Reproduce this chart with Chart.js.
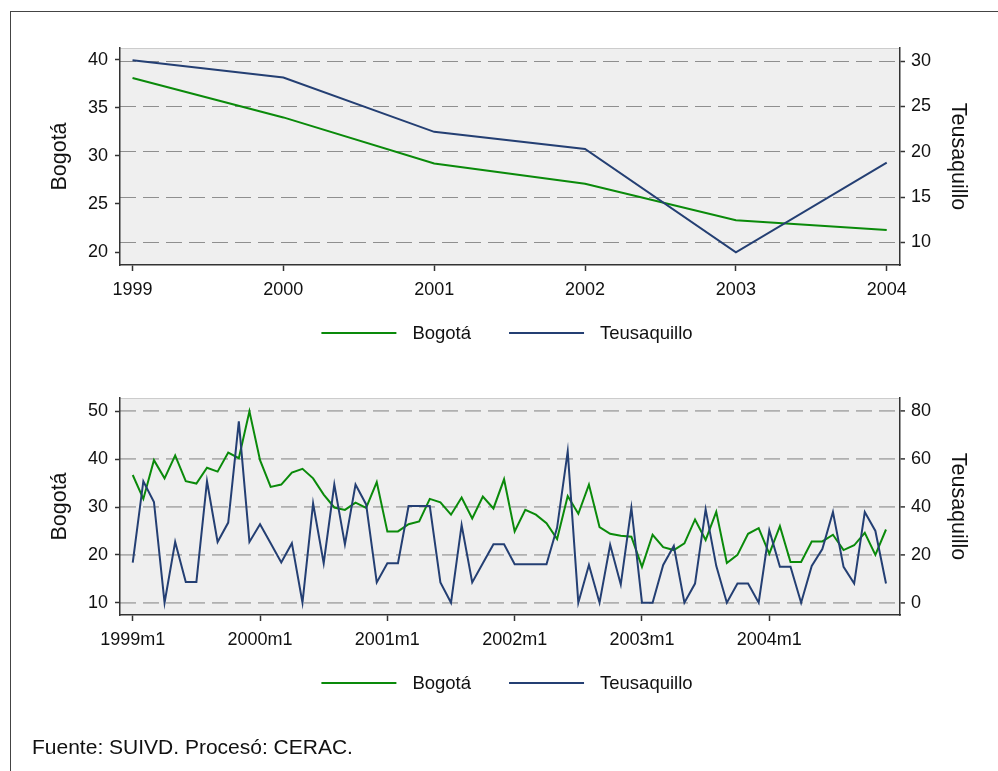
<!DOCTYPE html>
<html>
<head>
<meta charset="utf-8">
<script src="https://cdn.jsdelivr.net/npm/chart.js@4"></script>
<style>
  body { margin: 0; background: #fff; width: 998px; height: 771px; overflow: hidden; position: relative; font-family: 'Liberation Sans', Arial, sans-serif; }
  .marco { position: absolute; left: 10px; top: 11px; width: 1000px; height: 800px; border-left: 1px solid #444; border-top: 1px solid #444; }
  #anual { position: absolute; left: 10px; top: 11px; }
  #mensual { position: absolute; left: 10px; top: 360px; }
  .nota { position: absolute; left: 32px; top: 735px; font-size: 21px; color: #111; line-height: 24px; }
</style>
</head>
<body>
<div class="marco"></div>
<canvas id="anual" width="988" height="340"></canvas>
<canvas id="mensual" width="988" height="411"></canvas>
<div class="nota">Fuente: SUIVD. Procesó: CERAC.</div>
<script>
// tasas anuales
const years = [1999, 2000, 2001, 2002, 2003, 2004];
const bogotaAnual = [38.1, 34.0, 29.2, 27.1, 23.3, 22.3];
const teusaquilloAnual = [30.1, 28.2, 22.2, 20.3, 8.9, 18.8];

// tasas mensuales, 1999m1 .. 2004m12
const bogotaMensual = [
  36.7, 31.7, 39.8, 36.0, 40.8, 35.4, 34.9, 38.2, 37.4, 41.4, 40.2, 50.0,
  39.8, 34.2, 34.7, 37.2, 38.0, 36.0, 32.6, 29.9, 29.4, 30.9, 29.8, 35.2,
  24.9, 24.9, 26.4, 27.0, 31.7, 31.0, 28.4, 32.0, 27.6, 32.2, 29.7, 35.8,
  24.9, 29.4, 28.4, 26.6, 23.3, 32.3, 28.6, 34.7, 25.8, 24.4, 24.0, 23.8,
  17.5, 24.2, 21.6, 21.0, 22.4, 27.4, 23.1, 29.0, 18.3, 20.0, 24.4, 25.6,
  20.2, 26.0, 18.5, 18.5, 22.8, 22.8, 24.2, 21.0, 22.0, 24.6, 20.0, 25.3
];
const teusaquilloMensual = [
  16.8, 50.8, 42.1, 0, 25.4, 8.7, 8.7, 50.8, 25.4, 33.5, 75.8, 25.4,
  32.8, 24.9, 16.8, 24.9, 0, 41.5, 16.5, 49.4, 24.4, 49.4, 41.1, 8.5,
  16.5, 16.5, 40.4, 40.4, 40.4, 8.5, 0, 32.5, 8.5, 16.5, 24.4, 24.4,
  16.1, 16.1, 16.1, 16.1, 31.4, 63.3, 0, 15.8, 0, 24.2, 7.6, 39.7,
  0, 0, 15.8, 23.7, 0, 8.0, 39.0, 15.4, 0, 8.0, 8.0, 0,
  30.3, 15.0, 15.0, 0, 15.4, 22.4, 37.9, 15.0, 8.0, 37.9, 30.0, 8.0
];
const monthTicks = [0, 12, 24, 36, 48, 60];
const monthTickLabels = ['1999m1', '2000m1', '2001m1', '2002m1', '2003m1', '2004m1'];

const verde = '#0a8a0a';
const azul = '#243f73';
const eje = '#333';

Chart.defaults.font.family = "'Liberation Sans', Arial, sans-serif";
Chart.defaults.font.size = 18;
Chart.defaults.color = '#111';

// fondo gris del area de grafico
const fondoPlot = {
  id: 'fondoPlot',
  beforeDraw(chart) {
    const {ctx, chartArea: a} = chart;
    ctx.save();
    ctx.fillStyle = '#efefef';
    ctx.fillRect(a.left, a.top, a.right - a.left, a.bottom - a.top);
    ctx.strokeStyle = '#cccccc';
    ctx.lineWidth = 1;
    ctx.beginPath();
    ctx.moveTo(a.left, a.top + 0.5);
    ctx.lineTo(a.right, a.top + 0.5);
    ctx.stroke();
    ctx.restore();
  }
};

// leyenda tipo stata: linea larga + texto
const leyenda = {
  id: 'leyenda',
  afterDraw(chart) {
    const ctx = chart.ctx;
    const y = chart.chartArea.bottom + 68;
    ctx.save();
    ctx.font = "18.5px 'Liberation Sans', Arial, sans-serif";
    const items = chart.data.datasets.map(ds => ({
      label: ds.label, color: ds.borderColor,
      w: 75 + 16 + ctx.measureText(ds.label).width
    }));
    const total = items.reduce((s, it) => s + it.w, 0) + 38 * (items.length - 1);
    let x = 497 - total / 2;
    items.forEach(it => {
      ctx.strokeStyle = it.color;
      ctx.lineWidth = 2;
      ctx.beginPath();
      ctx.moveTo(x, y);
      ctx.lineTo(x + 75, y);
      ctx.stroke();
      ctx.fillStyle = '#111';
      ctx.textBaseline = 'middle';
      ctx.textAlign = 'left';
      ctx.fillText(it.label, x + 91, y + 1);
      x += it.w + 38;
    });
    ctx.restore();
  }
};

const ejeY = (pos, min, max, ticks, gridColor, gridWidth, title) => ({
  type: 'linear', position: pos, min: min, max: max,
  afterBuildTicks: s => { s.ticks = ticks.map(v => ({value: v})); },
  afterFit: s => { s.width = pos === 'left' ? 110 : 98; },
  ticks: { padding: pos === 'left' ? 7 : 6 },
  grid: {
    drawOnChartArea: !!gridColor,
    color: gridColor || eje,
    lineWidth: gridWidth,
    tickColor: eje, tickLength: 5, tickWidth: 1.5, tickBorderDash: []
  },
  border: { display: true, color: eje, width: 1.5, dash: [16, 7] },
  title: {
    display: true, text: title, font: {size: 21.5},
    padding: {top: pos === 'left' ? 37.6 : 27.6, bottom: 0}
  }
});

const ejeX = (min, max, ticks, labels) => ({
  type: 'linear', min: min, max: max,
  afterBuildTicks: s => { s.ticks = ticks.map(v => ({value: v})); },
  afterFit: s => { s.height = 40; },
  ticks: { callback: (v, i) => labels[i], padding: 8, autoSkip: false, maxRotation: 0 },
  grid: { drawOnChartArea: false, tickColor: eje, tickLength: 6, tickWidth: 1.5 },
  border: { display: true, color: eje, width: 1.5 }
});

const serie = (label, xs, ys, color, axis, order) => ({
  label: label,
  data: xs.map((x, i) => ({x: x, y: ys[i]})),
  yAxisID: axis,
  borderColor: color,
  backgroundColor: color,
  borderWidth: 2,
  pointRadius: 0,
  tension: 0,
  order: order
});

new Chart(document.getElementById('anual'), {
  type: 'line',
  data: {
    datasets: [
      serie('Bogotá', years, bogotaAnual, verde, 'y', 2),
      serie('Teusaquillo', years, teusaquilloAnual, azul, 'y1', 1)
    ]
  },
  options: {
    responsive: false,
    animation: false,
    layout: { padding: {top: 37, bottom: 46, left: 0, right: 0} },
    plugins: { legend: {display: false}, tooltip: {enabled: false} },
    scales: {
      x: ejeX(1998.917, 2004.088, years, years.map(String)),
      y: ejeY('left', 18.65, 41.22, [20, 25, 30, 35, 40], null, 1, 'Bogotá'),
      y1: ejeY('right', 7.49, 31.46, [10, 15, 20, 25, 30], '#8f8f8f', 1, 'Teusaquillo')
    }
  },
  plugins: [fondoPlot, leyenda]
});

const meses = bogotaMensual.map((v, i) => i);

new Chart(document.getElementById('mensual'), {
  type: 'line',
  data: {
    datasets: [
      serie('Bogotá', meses, bogotaMensual, verde, 'y', 2),
      serie('Teusaquillo', meses, teusaquilloMensual, azul, 'y1', 1)
    ]
  },
  options: {
    responsive: false,
    animation: false,
    layout: { padding: {top: 38, bottom: 116, left: 0, right: 0} },
    plugins: { legend: {display: false}, tooltip: {enabled: false} },
    scales: {
      x: ejeX(-1.2, 72.32, monthTicks, monthTickLabels),
      y: ejeY('left', 7.42, 52.8, [10, 20, 30, 40, 50], null, 1, 'Bogotá'),
      y1: ejeY('right', -5.15, 85.6, [0, 20, 40, 60, 80], '#b0b0b0', 1.8, 'Teusaquillo')
    }
  },
  plugins: [fondoPlot, leyenda]
});
</script>
</body>
</html>
